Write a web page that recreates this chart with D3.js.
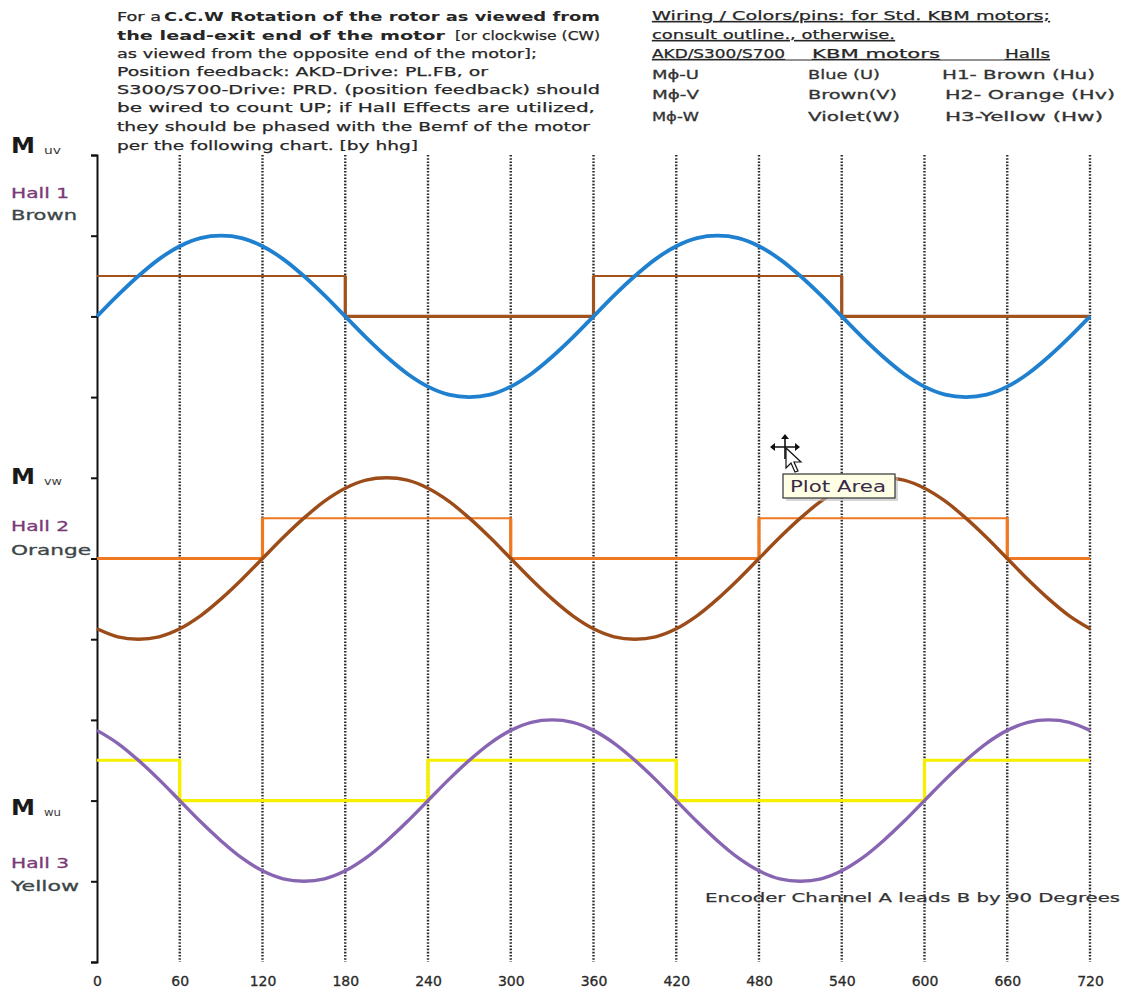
<!DOCTYPE html>
<html>
<head>
<meta charset="utf-8">
<script src="https://cdn.jsdelivr.net/npm/d3@7"></script>
<style>
  html, body { margin: 0; padding: 0; background: #ffffff; }
  svg { display: block; }
</style>
</head>
<body>
<svg id="chart" width="1125" height="994"></svg>
<script>
// ---------------- DATA ----------------
const angleStep = 15;                       // degrees between samples
const xTickValues = [0, 60, 120, 180, 240, 300, 360, 420, 480, 540, 600, 660, 720];
const yTickValues = [0, 1, 2, 3, 4, 5, 6, 7, 8, 9, 10];

// Back-EMF curves (one value every 15 degrees, 0..720)
const bemfUV = [8, 8.26, 8.5, 8.71, 8.87, 8.97, 9, 8.97, 8.87, 8.71, 8.5, 8.26,
                8, 7.74, 7.5, 7.29, 7.13, 7.03, 7, 7.03, 7.13, 7.29, 7.5, 7.74,
                8, 8.26, 8.5, 8.71, 8.87, 8.97, 9, 8.97, 8.87, 8.71, 8.5, 8.26,
                8, 7.74, 7.5, 7.29, 7.13, 7.03, 7, 7.03, 7.13, 7.29, 7.5, 7.74, 8];
const bemfVW = [4.13, 4.03, 4, 4.03, 4.13, 4.29, 4.5, 4.74, 5, 5.26, 5.5, 5.71,
                5.87, 5.97, 6, 5.97, 5.87, 5.71, 5.5, 5.26, 5, 4.74, 4.5, 4.29,
                4.13, 4.03, 4, 4.03, 4.13, 4.29, 4.5, 4.74, 5, 5.26, 5.5, 5.71,
                5.87, 5.97, 6, 5.97, 5.87, 5.71, 5.5, 5.26, 5, 4.74, 4.5, 4.29, 4.13];
const bemfWU = [2.87, 2.71, 2.5, 2.26, 2, 1.74, 1.5, 1.29, 1.13, 1.03, 1, 1.03,
                1.13, 1.29, 1.5, 1.74, 2, 2.26, 2.5, 2.71, 2.87, 2.97, 3, 2.97,
                2.87, 2.71, 2.5, 2.26, 2, 1.74, 1.5, 1.29, 1.13, 1.03, 1, 1.03,
                1.13, 1.29, 1.5, 1.74, 2, 2.26, 2.5, 2.71, 2.87, 2.97, 3, 2.97, 2.87];

// Hall sensor states per 60-degree sector (0..660), 1 = high
const hallSectorStart = [0, 60, 120, 180, 240, 300, 360, 420, 480, 540, 600, 660];
const hall1 = [1, 1, 1, 0, 0, 0, 1, 1, 1, 0, 0, 0];
const hall2 = [0, 0, 1, 1, 1, 0, 0, 0, 1, 1, 1, 0];
const hall3 = [1, 0, 0, 0, 1, 1, 1, 0, 0, 0, 1, 1];
const hallLow  = [8, 5, 2];
const hallHigh = [8.5, 5.5, 2.5];

const noteLines = [
  "For a ", "C.C.W Rotation of the rotor as viewed from",
  "the lead-exit end of the motor", "[or clockwise (CW)",
  "as viewed from the opposite end of the motor];",
  "Position feedback:  AKD-Drive: PL.FB, or",
  "S300/S700-Drive: PRD. (position feedback) should",
  "be wired to count UP;  if Hall Effects are utilized,",
  "they should be phased with the Bemf of the motor",
  "per the following chart. [by hhg]"
];
const wiringHead = ["Wiring / Colors/pins:  for Std. KBM motors;", "consult outline., otherwise."];
const wiringCols = ["AKD/S300/S700", "KBM motors", "Halls"];
const wiringDrive = ["M\u03d5-U", "M\u03d5-V", "M\u03d5-W"];
const wiringMotor = ["Blue (U)", "Brown(V)", "Violet(W)"];
const wiringHalls = ["H1- Brown (Hu)", "H2- Orange (Hv)", "H3-Yellow (Hw)"];
const phaseSubs = ["uv", "vw", "wu"];
const hallNames = ["Hall 1", "Hall 2", "Hall 3"];
const hallColorNames = ["Brown", "Orange", "Yellow"];
const encoderNote = "Encoder Channel A leads B by 90 Degrees";

// ---------------- DRAWING ----------------
const svg = d3.select("#chart");
const FONT = "'DejaVu Sans', Verdana, sans-serif";

const x = d3.scaleLinear().domain([0, 720]).range([97, 1090]);
const y = d3.scaleLinear().domain([0, 10]).range([962, 155]);

function txt(g, px, py, s, o = {}) {
  const fill = o.fill || "#262626";
  const t = g.append("text")
    .attr("x", px).attr("y", py)
    .attr("font-family", FONT)
    .attr("font-size", o.size || 13)
    .attr("font-weight", o.weight || "normal")
    .attr("fill", fill)
    .attr("text-anchor", o.anchor || "start")
    .text(s);
  if (o.heavy) t.attr("stroke", fill).attr("stroke-width", o.heavy);
  if (o.len) t.attr("textLength", o.len).attr("lengthAdjust", "spacingAndGlyphs");
  if (o.underline) t.attr("text-decoration", "underline");
  return t;
}

// vertical dotted grid lines
svg.append("g").selectAll("line")
  .data(xTickValues.filter(d => d > 0))
  .join("line")
  .attr("x1", d => x(d)).attr("x2", d => x(d))
  .attr("y1", y(10)).attr("y2", y(0))
  .attr("stroke", "#2a2a2a")
  .attr("stroke-width", 2.4)
  .attr("stroke-dasharray", "1.6,1.6");

// y axis
const yAxis = svg.append("g")
  .attr("transform", `translate(${x(0)},0)`)
  .call(d3.axisLeft(y).tickValues(yTickValues).tickSize(6).tickSizeOuter(6).tickFormat(""));
yAxis.selectAll("path, line").attr("stroke", "#111").attr("stroke-width", 2);

// x axis labels (no axis line)
const xAxis = svg.append("g")
  .attr("transform", `translate(0,${y(0)})`)
  .call(d3.axisBottom(x).tickValues(xTickValues).tickSize(0).tickPadding(14));
xAxis.select(".domain").remove();
xAxis.selectAll("text")
  .attr("font-family", FONT).attr("font-size", 14).attr("fill", "#2a2a2a")
  .attr("stroke", "#2a2a2a").attr("stroke-width", 0.3);

// hall sensor square waves
const hallColors = ["#a4521c", "#f07820", "#f6f000"];
[hall1, hall2, hall3].forEach((states, i) => {
  const pts = hallSectorStart.map((a, k) => [a, states[k] ? hallHigh[i] : hallLow[i]]);
  pts.push([720, pts[pts.length - 1][1]]);
  const line = d3.line().x(d => x(d[0])).y(d => y(d[1])).curve(d3.curveStepAfter);
  svg.append("path").datum(pts)
    .attr("d", line)
    .attr("fill", "none")
    .attr("stroke", hallColors[i])
    .attr("stroke-width", i === 2 ? 2.8 : 2);
  // low runs drawn heavier
  let k = 0;
  while (k < states.length) {
    if (states[k] === 0) {
      let e = k;
      while (e + 1 < states.length && states[e + 1] === 0) e++;
      const a0 = hallSectorStart[k];
      const a1 = e + 1 < states.length ? hallSectorStart[e + 1] : 720;
      const seg = [];
      if (a0 > 0) seg.push([a0, hallHigh[i]]);
      seg.push([a0, hallLow[i]], [a1, hallLow[i]]);
      if (a1 < 720) seg.push([a1, hallHigh[i]]);
      svg.append("path").datum(seg)
        .attr("d", d3.line().x(d => x(d[0])).y(d => y(d[1])))
        .attr("fill", "none")
        .attr("stroke", hallColors[i])
        .attr("stroke-width", 3.2);
      k = e + 1;
    } else k++;
  }
});

// back-EMF curves
const bemfColors = ["#1f80d0", "#9c4c18", "#8865b2"];
[bemfUV, bemfVW, bemfWU].forEach((vals, i) => {
  const line = d3.line()
    .x((d, j) => x(j * angleStep))
    .y(d => y(d))
    .curve(d3.curveCatmullRom.alpha(0.5));
  svg.append("path").datum(vals)
    .attr("d", line)
    .attr("fill", "none")
    .attr("stroke", bemfColors[i])
    .attr("stroke-width", i === 0 ? 3.8 : 3.4)
    .attr("stroke-linejoin", "round");
});

// left side labels
const labelG = svg.append("g");
const mBase = [153, 484, 815];
const hallBase = [[198, 220], [531, 555], [868, 891]];
const colorNameLen = [66, 80, 68];
phaseSubs.forEach((s, i) => {
  txt(labelG, 11, mBase[i], "M", { size: 21, weight: "bold", fill: "#1a1a1a", len: 24 });
  txt(labelG, 44, mBase[i] + 1, s, { size: 10, fill: "#3a3a3a", len: s === "vw" ? 18 : 17 });
  txt(labelG, 11, hallBase[i][0], hallNames[i], { size: 14, fill: "#7a3a78", len: 58, heavy: 0.3 });
  txt(labelG, 11, hallBase[i][1], hallColorNames[i], { size: 14, fill: "#3c4648", len: colorNameLen[i], heavy: 0.3 });
});

// top-left note
const noteG = svg.append("g");
txt(noteG, 117, 21, noteLines[0], { len: 44, heavy: 0.25 });
txt(noteG, 164, 21, noteLines[1], { weight: "bold", len: 436 });
txt(noteG, 117, 40, noteLines[2], { weight: "bold", len: 328 });
txt(noteG, 455, 40, noteLines[3], { len: 145, heavy: 0.25 });
const restLen = [420, 371, 483, 478, 473, 301];
const restBase = [58, 76, 94, 112, 131, 150];
for (let k = 4; k < noteLines.length; k++) {
  txt(noteG, 117, restBase[k - 4], noteLines[k], { len: restLen[k - 4], heavy: 0.25 });
}

// top-right wiring table
const wG = svg.append("g");
txt(wG, 652, 20, wiringHead[0], { underline: true, len: 398, heavy: 0.25 });
txt(wG, 652, 39, wiringHead[1], { underline: true, len: 243, heavy: 0.25 });
txt(wG, 652, 58, wiringCols[0], { underline: true, len: 133, heavy: 0.25 });
txt(wG, 812, 58, wiringCols[1], { underline: true, len: 128, heavy: 0.25 });
txt(wG, 1005, 58, wiringCols[2], { underline: true, len: 45, heavy: 0.25 });
wG.append("line").attr("x1", 785).attr("x2", 812).attr("y1", 60).attr("y2", 60).attr("stroke", "#262626").attr("stroke-width", 1);
wG.append("line").attr("x1", 940).attr("x2", 1005).attr("y1", 60).attr("y2", 60).attr("stroke", "#262626").attr("stroke-width", 1);
const rowBase = [79, 99, 121];
const motorLen = [72, 89, 92];
const hallsX = [942, 945, 945];
const hallsLen = [153, 170, 158];
wiringDrive.forEach((s, i) => {
  txt(wG, 652, rowBase[i], s, { len: 47, fill: "#333", heavy: 0.3 });
  txt(wG, 808, rowBase[i], wiringMotor[i], { len: motorLen[i], fill: "#333", heavy: 0.3 });
  txt(wG, hallsX[i], rowBase[i], wiringHalls[i], { len: hallsLen[i], fill: "#333", heavy: 0.3 });
});

// encoder note
txt(svg, 705, 902, encoderNote, { len: 415, fill: "#333", heavy: 0.25 });

// "Plot Area" tooltip and move cursor (screen-capture artefact)
const tip = svg.append("g");
tip.append("rect").attr("x", 786).attr("y", 477).attr("width", 112).attr("height", 24).attr("fill", "#bdbdbd").attr("opacity", 0.6);
tip.append("rect").attr("x", 783).attr("y", 474).attr("width", 112).attr("height", 24)
  .attr("fill", "#ffffe6").attr("stroke", "#333").attr("stroke-width", 1.2);
txt(tip, 790, 492, "Plot Area", { size: 15, fill: "#3a2a4a", len: 96 });
const cur = svg.append("g").attr("transform", "translate(785,447)");
cur.append("path")
  .attr("d", "M-14,0 L14,0 M0,-12 L0,12")
  .attr("stroke", "#111").attr("stroke-width", 1.6);
cur.append("path")
  .attr("d", "M-15,0 L-10,-4 L-10,4 Z M15,0 L10,-4 L10,4 Z M0,-13 L-4,-8 L4,-8 Z")
  .attr("fill", "#111");
cur.append("path")
  .attr("d", "M1,1 L1,21 L6,16 L10,25 L13,24 L9,15 L16,15 Z")
  .attr("fill", "#fff").attr("stroke", "#111").attr("stroke-width", 1.2);
</script>
</body>
</html>
